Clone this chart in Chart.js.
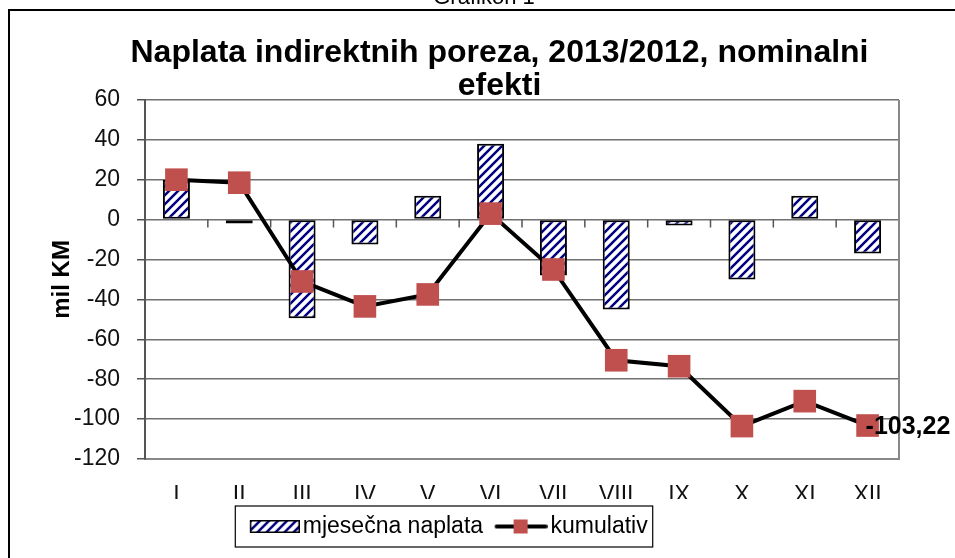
<!DOCTYPE html>
<html>
<head>
<meta charset="utf-8">
<script src="https://cdn.jsdelivr.net/npm/chart.js@4.4.1/dist/chart.umd.min.js"></script>
<style>
  body { margin: 0; background: #fff; }
  #wrap { width: 955px; height: 558px; }
</style>
</head>
<body>
<div id="wrap"><canvas id="myChart"></canvas></div>
<script>
// months (roman numerals) and values in mil KM
var months = ['I', 'II', 'III', 'IV', 'V', 'VI', 'VII', 'VIII', 'IX', 'X', 'XI', 'XII'];
var monthly = [20, -2, -49.5, -12.5, 12, 38, -28, -45, -3, -30, 12, -17];
var cumulative = [20, 18.5, -31, -43.5, -37.5, 3, -25, -70.5, -73.5, -103.5, -91, -103.22];
var yTicks = [60, 40, 20, 0, -20, -40, -60, -80, -100, -120];

var FONT = '"Liberation Sans", Arial, sans-serif';
var NAVY = '#000080';
var RED = '#C0504D';

var ctx = document.getElementById('myChart').getContext('2d');

// hatched fill for the monthly bars
function stripes() {
  var c = document.createElement('canvas');
  c.width = 9; c.height = 9;
  var g = c.getContext('2d');
  g.fillStyle = '#fff';
  g.fillRect(0, 0, 9, 9);
  g.strokeStyle = NAVY;
  g.lineWidth = 2.5;
  g.beginPath();
  g.moveTo(-2, 11); g.lineTo(11, -2);
  g.moveTo(-2, 2); g.lineTo(2, -2);
  g.moveTo(7, 11); g.lineTo(11, 7);
  g.stroke();
  return c;
}
var hatch = ctx.createPattern(stripes(), 'repeat');

// legend swatches (57 wide, content pushed to the right edge)
function barSwatch() {
  var c = document.createElement('canvas');
  c.width = 57; c.height = 13;
  var g = c.getContext('2d');
  g.fillStyle = g.createPattern(stripes(), 'repeat');
  g.fillRect(7, 0, 50, 13);
  g.strokeStyle = '#000';
  g.lineWidth = 1.5;
  g.strokeRect(7.75, 0.75, 48.5, 11.5);
  return c;
}
function lineSwatch() {
  var c = document.createElement('canvas');
  c.width = 57; c.height = 16;
  var g = c.getContext('2d');
  g.strokeStyle = '#000';
  g.lineWidth = 4;
  g.lineCap = 'round';
  g.beginPath(); g.moveTo(6, 8); g.lineTo(55, 8); g.stroke();
  g.fillStyle = RED;
  g.fillRect(23, 1, 14, 14);
  return c;
}

var framePlugin = {
  id: 'frame',
  afterLayout: function (chart) {
    // title sits centred over the whole chart object, not the canvas
    chart.titleBlock.left += 50;
    chart.titleBlock.right += 50;
  },
  beforeDraw: function (chart) {
    var c = chart.ctx;
    c.save();
    c.fillStyle = '#fff';
    c.fillRect(0, 0, chart.width, chart.height);
    c.strokeStyle = '#000';
    c.lineWidth = 2;
    c.strokeRect(9, 10, chart.width + 20, chart.height + 20);
    c.fillStyle = '#000';
    c.font = '22px ' + FONT;
    c.textAlign = 'center';
    c.textBaseline = 'alphabetic';
    c.fillText('Grafikon 1', 484, 4);
    c.restore();
  },
  beforeDatasetsDraw: function (chart) {
    var c = chart.ctx, x = chart.scales.x, y = chart.scales.y, a = chart.chartArea;
    var y0 = y.getPixelForValue(0);
    var step = x.getPixelForValue(1) - x.getPixelForValue(0);
    c.save();
    c.strokeStyle = '#555';
    c.lineWidth = 1.5;
    c.beginPath();
    for (var i = 0; i < months.length; i++) {
      var xb = x.getPixelForValue(i) + step / 2;
      c.moveTo(xb, y0);
      c.lineTo(xb, y0 + 8);
    }
    c.stroke();
    c.strokeStyle = '#888';
    c.lineWidth = 2;
    c.beginPath();
    c.moveTo(a.right, a.top);
    c.lineTo(a.right, a.bottom);
    c.stroke();
    c.restore();
  },
  afterDatasetsDraw: function (chart) {
    var c = chart.ctx;
    var meta = chart.getDatasetMeta(1);
    var last = cumulative.length - 1;
    var p = meta.data[last];
    c.save();
    c.fillStyle = '#000';
    c.font = 'bold 25px ' + FONT;
    c.textAlign = 'left';
    c.textBaseline = 'middle';
    c.fillText(String(cumulative[last]).replace('.', ','), p.x - 2, p.y + 2);
    c.restore();
  },
  afterDraw: function (chart) {
    // box round the legend
    var lg = chart.legend, hb = lg.legendHitBoxes;
    if (!hb || !hb.length) return;
    var c = chart.ctx;
    var left = hb[0].left - 16;
    var right = hb[hb.length - 1].left + hb[hb.length - 1].width + 5;
    var cy = hb[0].top + 11.5;
    c.save();
    c.strokeStyle = '#000';
    c.lineWidth = 1.2;
    c.strokeRect(left, cy - 20.5, right - left, 41);
    c.restore();
  }
};

var chart = new Chart(ctx, {
  type: 'bar',
  data: {
    labels: months,
    datasets: [{
      type: 'bar',
      label: 'mjesečna naplata',
      data: monthly,
      backgroundColor: hatch,
      borderColor: '#000',
      borderWidth: 2,
      borderSkipped: false,
      categoryPercentage: 1,
      barPercentage: 0.43,
      order: 2
    }, {
      type: 'line',
      label: 'kumulativ',
      data: cumulative,
      borderColor: '#000',
      borderWidth: 4,
      pointStyle: 'rect',
      pointRadius: 16,
      pointBackgroundColor: RED,
      pointBorderColor: RED,
      pointBorderWidth: 0,
      tension: 0,
      order: 1
    }]
  },
  options: {
    responsive: true,
    maintainAspectRatio: false,
    animation: false,
    layout: { padding: { left: 0, right: 56, top: 21, bottom: 10 } },
    plugins: {
      title: {
        display: true,
        text: ['Naplata indirektnih poreza, 2013/2012, nominalni', 'efekti'],
        color: '#000',
        font: { family: FONT, size: 32, weight: 'bold', lineHeight: 1.03 },
        padding: { top: 16, bottom: -3 }
      },
      legend: {
        position: 'bottom',
        labels: {
          color: '#000',
          font: { family: FONT, size: 23 },
          usePointStyle: true,
          pointStyleWidth: 40,
          padding: 16,
          generateLabels: function () {
            return [
              { text: 'mjesečna naplata', pointStyle: barSwatch(), fillStyle: hatch, strokeStyle: '#000', lineWidth: 0, datasetIndex: 0, hidden: false },
              { text: 'kumulativ', pointStyle: lineSwatch(), fillStyle: RED, strokeStyle: '#000', lineWidth: 0, datasetIndex: 1, hidden: false }
            ];
          }
        }
      },
      tooltip: { enabled: false }
    },
    scales: {
      x: {
        grid: { display: false },
        border: { display: true, color: '#888', width: 2 },
        ticks: { color: '#111', font: { family: FONT, size: 23, lineHeight: 0.8 }, padding: 19, maxRotation: 0 },
        afterFit: function (scale) { scale.height = 40; }
      },
      y: {
        min: -120,
        max: 60,
        afterBuildTicks: function (scale) {
          scale.ticks = yTicks.map(function (v) { return { value: v }; });
        },
        grid: { color: '#707070', lineWidth: 1.5, tickLength: 8, tickColor: '#555' },
        border: { display: true, color: '#555', width: 2 },
        ticks: { color: '#111', font: { family: FONT, size: 23 }, padding: 17 },
        title: {
          display: true,
          text: 'mil KM',
          color: '#000',
          font: { family: FONT, size: 24, weight: 'bold' },
          padding: { top: 48, bottom: 0 }
        },
        afterFit: function (scale) { scale.width = 145; }
      }
    }
  },
  plugins: [framePlugin]
});
</script>
</body>
</html>
